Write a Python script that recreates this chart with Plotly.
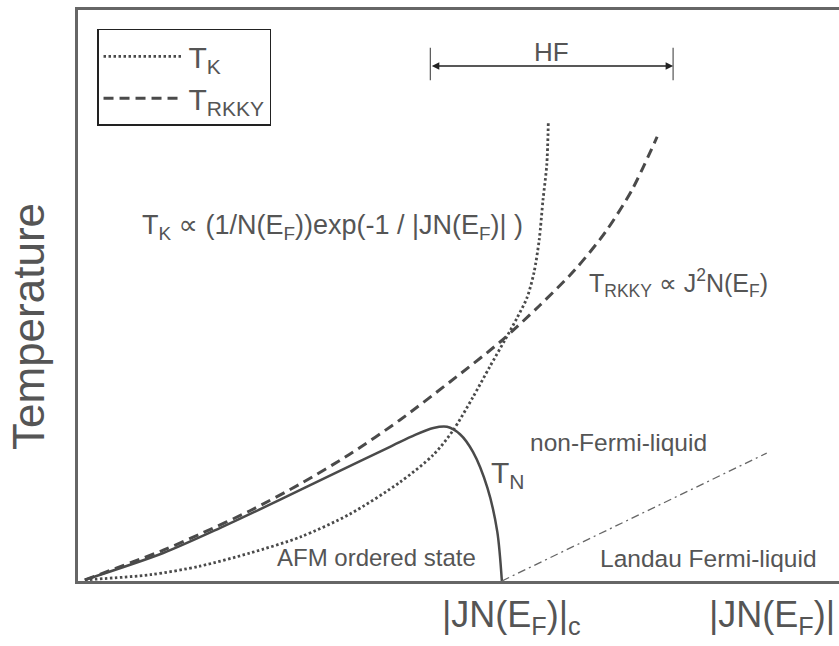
import plotly.graph_objects as go

# ---- data (arbitrary units) ----
rkky_x = [0.09, 1.12, 1.60, 2.26, 2.92, 3.57, 4.23, 4.89, 5.55, 6.07, 6.53, 6.93, 7.28, 7.61]
rkky_y = [0.02, 0.54, 0.82, 1.23, 1.70, 2.22, 2.82, 3.49, 4.19, 4.83, 5.45, 6.11, 6.85, 7.78]

tk_x = [0.09, 0.95, 1.60, 2.26, 2.92, 3.57, 4.23, 4.67, 4.93, 5.19, 5.41, 5.61, 5.77, 5.90, 5.99, 6.06, 6.11, 6.16, 6.18]
tk_y = [0.02, 0.11, 0.26, 0.49, 0.77, 1.17, 1.73, 2.21, 2.64, 3.22, 3.75, 4.22, 4.61, 4.96, 5.39, 5.97, 6.67, 7.29, 8.02]

tn_x = [0.09, 1.12, 1.87, 2.65, 3.44, 4.10, 4.43, 4.67, 4.85, 5.02, 5.19, 5.38, 5.51, 5.57]
tn_y = [0.02, 0.49, 0.93, 1.42, 1.93, 2.35, 2.56, 2.68, 2.70, 2.57, 2.26, 1.63, 0.86, 0.00]

fl_x = [5.57, 9.05]
fl_y = [0.00, 2.24]

hf_x = [4.63, 7.82]   # extent of the heavy-fermion range

LINE = "#4a4a4a"
TXT = "#555555"
FONT = "Liberation Sans, Arial, DejaVu Sans, sans-serif"

fig = go.Figure()
fig.add_trace(go.Scatter(x=tk_x, y=tk_y, mode="lines", name="T<sub>K</sub>",
                         line=dict(color=LINE, width=2.8, dash="2.5px,2.5px", shape="spline", smoothing=0.8)))
fig.add_trace(go.Scatter(x=rkky_x, y=rkky_y, mode="lines", name="T<sub>RKKY</sub>",
                         line=dict(color=LINE, width=3, dash="10px,6px", shape="spline", smoothing=0.8)))
fig.add_trace(go.Scatter(x=tn_x, y=tn_y, mode="lines", name="T<sub>N</sub>", showlegend=False,
                         line=dict(color=LINE, width=2.5, shape="spline", smoothing=0.8)))
fig.add_trace(go.Scatter(x=fl_x, y=fl_y, mode="lines", showlegend=False,
                         line=dict(color="#666666", width=1.3, dash="8px,4px,2px,4px")))

ann = []
def text(x, y, s, size, xanchor="left", yanchor="middle", ref="", **kw):
    ann.append(dict(x=x, y=y, xref="paper" if ref == "paper" else "x",
                    yref="paper" if ref == "paper" else "y", text=s, showarrow=False,
                    xanchor=xanchor, yanchor=yanchor,
                    font=dict(family=FONT, size=size, color=TXT), **kw))

text(0.815, 6.20, "T<sub>K</sub> ∝ (1/N(E<sub>F</sub>))exp(-1 / |JN(E<sub>F</sub>)| )", 27)
text(6.69, 5.22, "T<sub>RKKY</sub> ∝ J<sup>2</sup>N(E<sub>F</sub>)", 25)
text(5.913, 2.43, "non-Fermi-liquid", 24.5)
text(2.589, 0.42, "AFM ordered state", 24)
text(6.833, 0.40, "Landau Fermi-liquid", 24.5)
text(5.40, 1.87, "T<sub>N</sub>", 30)
text(6.216, 9.26, "HF", 26, xanchor="center")
text(0.4757, -0.063, "|JN(E<sub>F</sub>)|<sub>c</sub>", 36, ref="paper")
text(0.9974, -0.063, "|JN(E<sub>F</sub>)|", 36, xanchor="right", ref="paper")
text(-0.0644, 0.4466, "Temperature", 44, xanchor="center", ref="paper", textangle=-90)

# HF double arrow
ann.append(dict(x=hf_x[1], y=9.02, ax=hf_x[0], ay=9.02, xref="x", yref="y", axref="x", ayref="y",
                text="", showarrow=True, arrowhead=2, arrowside="end+start", arrowsize=1,
                arrowwidth=1.5, arrowcolor="#222222"))

shapes = []
for hx in hf_x:
    shapes.append(dict(type="line", xref="x", yref="y", x0=hx, x1=hx, y0=8.77, y1=9.34,
                       line=dict(color="#555555", width=1.2)))

fig.update_layout(
    width=839, height=646,
    margin=dict(l=78, r=0, t=10, b=65),
    paper_bgcolor="white", plot_bgcolor="white",
    font=dict(family=FONT, color=TXT),
    annotations=ann, shapes=shapes,
    showlegend=True,
    legend=dict(x=0.025, y=0.967, xanchor="left", yanchor="top",
                bgcolor="white", bordercolor="#222222", borderwidth=1.5,
                font=dict(family=FONT, size=30, color=TXT), itemwidth=80,
                tracegroupgap=0),
    xaxis=dict(range=[0, 10], showline=True, linecolor="#666666", linewidth=2.5, mirror=True,
               showgrid=False, zeroline=False, showticklabels=False, ticks=""),
    yaxis=dict(range=[0, 10], showline=True, linecolor="#666666", linewidth=3, mirror=False,
               showgrid=False, zeroline=False, showticklabels=False, ticks=""),
)

fig.write_html("out.html", config={"displayModeBar": False},
               post_script="document.body.style.margin='0';document.body.style.overflow='hidden';")
